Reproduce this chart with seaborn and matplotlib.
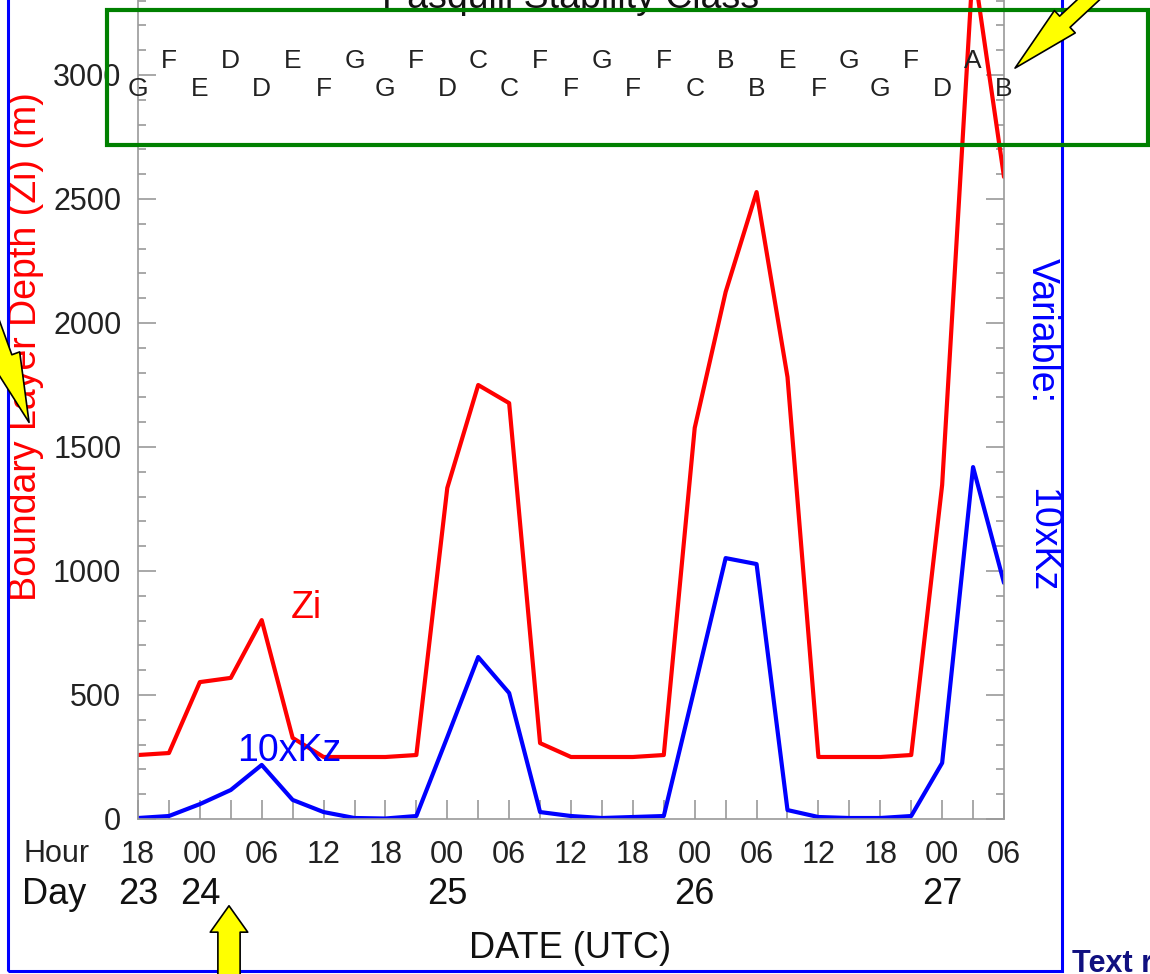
import matplotlib
matplotlib.use("Agg")
import matplotlib.pyplot as plt
import matplotlib.patches as mpatches
import matplotlib.transforms as mtransforms
import seaborn as sns
import pandas as pd
from matplotlib.ticker import MultipleLocator

# hours after 23/18 UTC, one sample every 3 hours
hours = [0, 3, 6, 9, 12, 15, 18, 21, 24, 27, 30, 33, 36, 39, 42,
         45, 48, 51, 54, 57, 60, 63, 66, 69, 72, 75, 78, 81, 84]
zi = [258, 266, 552, 569, 802, 327, 250, 250, 250, 258, 1335, 1750, 1677, 306, 250,
      250, 250, 258, 1577, 2125, 2528, 1782, 250, 250, 250, 258, 1347, 3450, 2589]
kz10 = [4, 12, 60, 117, 218, 77, 28, 4, 2, 12, 330, 653, 508, 28, 12,
        4, 8, 12, 530, 1052, 1028, 36, 8, 4, 4, 12, 226, 1419, 952]
stability = ["G", "F", "E", "D", "D", "E", "F", "G", "G", "F", "D", "C", "C", "F", "F",
             "G", "F", "F", "C", "B", "B", "E", "F", "G", "G", "F", "D", "A", "B"]

hour_ticks = [0, 6, 12, 18, 24, 30, 36, 42, 48, 54, 60, 66, 72, 78, 84]
hour_labels = ["18", "00", "06", "12", "18", "00", "06", "12", "18", "00", "06", "12", "18", "00", "06"]
day_ticks = [0, 6, 30, 54, 78]
day_labels = ["23", "24", "25", "26", "27"]

df = pd.DataFrame({"hours": hours, "zi": zi, "kz10": kz10})

sns.set_style("ticks")
plt.rcParams["font.family"] = ["Liberation Sans", "DejaVu Sans"]

W, H = 1150, 974
fig = plt.figure(figsize=(W / 100, H / 100), dpi=100)
ymax = 3480
ax = fig.add_axes([138 / W, (H - 819) / H, (1004 - 138) / W, ymax * 0.248 / H])

sns.lineplot(data=df, x="hours", y="zi", color="#ff0000", lw=3, ax=ax)
sns.lineplot(data=df, x="hours", y="kz10", color="#0000ff", lw=3, ax=ax)

ax.set_xlim(0, 84)
ax.set_ylim(0, ymax)
ax.set_xlabel("")
ax.set_ylabel("")

ax.yaxis.set_major_locator(MultipleLocator(500))
ax.yaxis.set_minor_locator(MultipleLocator(100))
ax.set_xticks(hour_ticks)
ax.set_xticklabels(hour_labels)
ax.xaxis.set_minor_locator(MultipleLocator(3))

for s in ax.spines.values():
    s.set_color("#9a9a9a")
    s.set_linewidth(1.2)
ax.spines["top"].set_visible(False)

ax.tick_params(axis="both", which="both", direction="in", color="#9a9a9a",
               width=1.2, labelsize=22, labelcolor="#222222", pad=12)
ax.tick_params(axis="x", which="both", length=13.5, pad=15)
ax.tick_params(axis="y", which="major", length=13, right=True)
ax.tick_params(axis="y", which="minor", length=6, right=True)

# stability classes, staggered in two rows
for i, (h, c) in enumerate(zip(hours, stability)):
    yv = 3055 if i % 2 else 2942
    ax.text(h, yv, c, ha="center", va="center", fontsize=19, color="#222222")

ax.text(16.3, 850, "Zi", color="#ff0000", fontsize=27, ha="center", va="center")
ax.text(14.7, 275, "10xKz", color="#0000ff", fontsize=27, ha="center", va="center")

# day row under the hour labels
blend = mtransforms.blended_transform_factory(ax.transData, fig.transFigure)
for d, lab in zip(day_ticks, day_labels):
    ax.text(d, (H - 894) / H, lab, transform=blend, ha="center", va="center",
            fontsize=26, color="#111111")

fig.text(23 / W, (H - 854) / H, "Hour", ha="left", va="center", fontsize=22, color="#222222")
fig.text(22 / W, (H - 894) / H, "Day", ha="left", va="center", fontsize=26, color="#111111")
fig.text(570 / W, (H - 948) / H, "DATE (UTC)", ha="center", va="center", fontsize=26, color="#111111")
fig.text(571 / W, (H - 8) / H, "Pasquill Stability Class", ha="center", va="baseline",
         fontsize=27, color="#111111")
fig.text(26 / W, (H - 347) / H, "Boundary Layer Depth (Zi) (m)", rotation=90,
         ha="center", va="center", fontsize=27, color="#ff0000")
fig.text(1042 / W, (H - 331) / H, "Variable:", rotation=270, ha="center", va="center",
         fontsize=27, color="#0000ff")
fig.text(1042 / W, (H - 540) / H, "10xKz", rotation=270, ha="center", va="center",
         fontsize=27, color="#0000ff")
fig.text(1072 / W, 2 / H, "Text r", ha="left", va="baseline", fontsize=22,
         fontweight="bold", color="#101080")

# page frame and highlight box
fig.add_artist(mpatches.Rectangle((8 / W, 3 / H), 1054 / W, 1.2, transform=fig.transFigure,
                                  fill=False, ec="#0000ff", lw=2.2, zorder=5))
fig.add_artist(mpatches.Rectangle((107 / W, (H - 145) / H), 1041 / W, 135 / H,
                                  transform=fig.transFigure, fill=False, ec="#008000",
                                  lw=3, zorder=10))

# yellow callout arrows (display pixels, origin bottom-left)
ident = mtransforms.IdentityTransform()
arrows = [
    ((229, -40), (229, H - 903), "simple,head_length=19,head_width=27,tail_width=16"),
    ((-30, H - 260), (30, H - 425), "simple,head_length=50,head_width=22,tail_width=10"),
    ((1115, H + 25), (1013, H - 70), "simple,head_length=49,head_width=22,tail_width=11"),
]
for a, b, style in arrows:
    fig.add_artist(mpatches.FancyArrowPatch(a, b, arrowstyle=style, mutation_scale=1,
                                            transform=ident, fc="#ffff00", ec="black",
                                            lw=1.2, zorder=12))

fig.savefig("out.png", dpi=100)
